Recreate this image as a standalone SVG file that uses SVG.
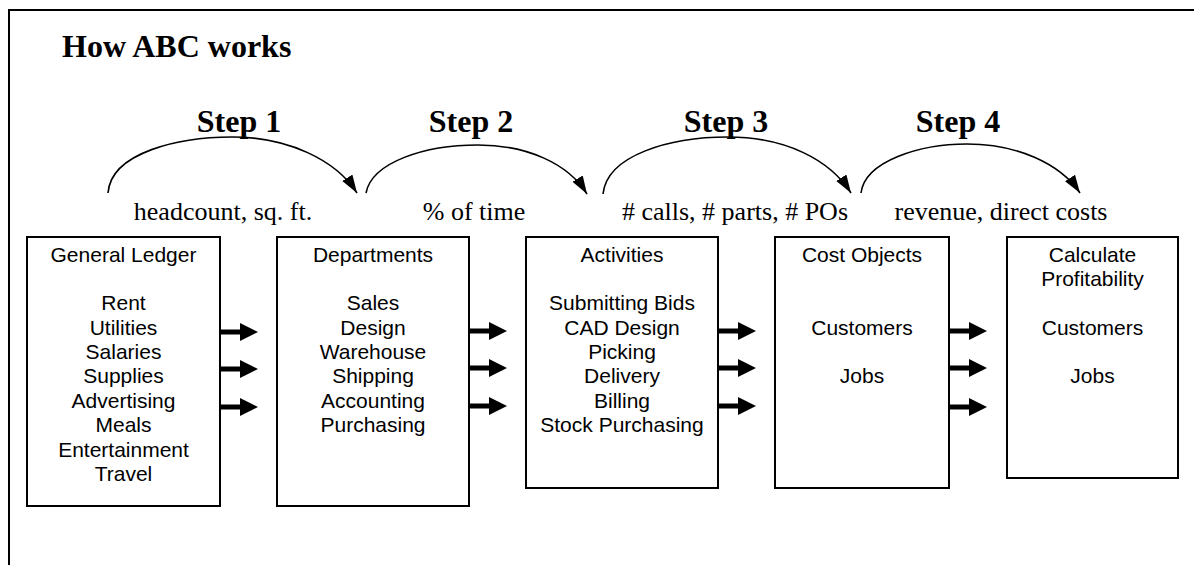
<svg xmlns="http://www.w3.org/2000/svg" width="1194" height="565" viewBox="0 0 1194 565">
<style>
.frame{fill:none;stroke:#000;stroke-width:2}
.box{fill:#fff;stroke:#000;stroke-width:2}
.title{font-family:"Liberation Serif","Times New Roman",serif;font-weight:bold;font-size:32px;fill:#000}
.step{font-family:"Liberation Serif","Times New Roman",serif;font-weight:bold;font-size:32px;fill:#000;text-anchor:middle}
.lbl{font-family:"Liberation Serif","Times New Roman",serif;font-size:26px;fill:#000;text-anchor:middle}
.bt{font-family:"Liberation Sans",Arial,sans-serif;font-size:21px;fill:#000;text-anchor:middle}
.arc{fill:none;stroke:#000;stroke-width:1.6;marker-end:url(#ah)}
.blk{fill:#000}
</style>
<defs>
<marker id="ah" markerUnits="userSpaceOnUse" markerWidth="20" markerHeight="20" viewBox="0 0 20 20" refX="18" refY="10" orient="auto">
<path d="M0,4 L18,10 L0,16 Z" fill="#000"/>
</marker>
<path id="ba" d="M0,-2.6 H20 V-9 L38,0 L20,9 V2.6 H0 Z"/>
</defs>
<path class="frame" d="M9,566 V10 H1196"/>
<text class="title" x="62" y="57">How ABC works</text>
<g id="steps">
<text class="step" x="239" y="132">Step 1</text>
<text class="step" x="471" y="132">Step 2</text>
<text class="step" x="726" y="132">Step 3</text>
<text class="step" x="958" y="132">Step 4</text>
<text class="lbl" x="223" y="220">headcount, sq. ft.</text>
<text class="lbl" x="474" y="220">% of time</text>
<text class="lbl" x="735" y="220"># calls, # parts, # POs</text>
<text class="lbl" x="1001" y="220">revenue, direct costs</text>
</g>
<g id="connectors">
<path class="arc" d="M108,193 C111,152 180,137 232,137 C288,137 336,160 357,193"/>
<path class="arc" d="M366,193 C372,162 425,145 478,145 C526,145 568,163 587,194"/>
<path class="arc" d="M603,194 C607,155 670,137 728,137 C786,137 830,160 851,193"/>
<path class="arc" d="M861,193 C865,161 920,144 967,144 C1016,144 1060,163 1080,193"/>
<use href="#ba" class="blk" x="220" y="332"/>
<use href="#ba" class="blk" x="220" y="369"/>
<use href="#ba" class="blk" x="220" y="407"/>
<use href="#ba" class="blk" x="469" y="331"/>
<use href="#ba" class="blk" x="469" y="368"/>
<use href="#ba" class="blk" x="469" y="406"/>
<use href="#ba" class="blk" x="718" y="331"/>
<use href="#ba" class="blk" x="718" y="368"/>
<use href="#ba" class="blk" x="718" y="406"/>
<use href="#ba" class="blk" x="949" y="331"/>
<use href="#ba" class="blk" x="949" y="368"/>
<use href="#ba" class="blk" x="949" y="407"/>
</g>
<g id="general-ledger">
<rect class="box" x="27" y="237" width="193" height="269"/>
<text class="bt" x="123.5" y="262">General Ledger</text>
<text class="bt" x="123.5" y="310">Rent</text>
<text class="bt" x="123.5" y="335">Utilities</text>
<text class="bt" x="123.5" y="359">Salaries</text>
<text class="bt" x="123.5" y="383">Supplies</text>
<text class="bt" x="123.5" y="408">Advertising</text>
<text class="bt" x="123.5" y="432">Meals</text>
<text class="bt" x="123.5" y="457">Entertainment</text>
<text class="bt" x="123.5" y="481">Travel</text>
</g>
<g id="departments">
<rect class="box" x="277" y="237" width="192" height="269"/>
<text class="bt" x="373" y="262">Departments</text>
<text class="bt" x="373" y="310">Sales</text>
<text class="bt" x="373" y="335">Design</text>
<text class="bt" x="373" y="359">Warehouse</text>
<text class="bt" x="373" y="383">Shipping</text>
<text class="bt" x="373" y="408">Accounting</text>
<text class="bt" x="373" y="432">Purchasing</text>
</g>
<g id="activities">
<rect class="box" x="526" y="237" width="192" height="251"/>
<text class="bt" x="622" y="262">Activities</text>
<text class="bt" x="622" y="310">Submitting Bids</text>
<text class="bt" x="622" y="335">CAD Design</text>
<text class="bt" x="622" y="359">Picking</text>
<text class="bt" x="622" y="383">Delivery</text>
<text class="bt" x="622" y="408">Billing</text>
<text class="bt" x="622" y="432">Stock Purchasing</text>
</g>
<g id="cost-objects">
<rect class="box" x="775" y="237" width="174" height="251"/>
<text class="bt" x="862" y="262">Cost Objects</text>
<text class="bt" x="862" y="335">Customers</text>
<text class="bt" x="862" y="383">Jobs</text>
</g>
<g id="calculate-profitability">
<rect class="box" x="1007" y="237" width="171" height="241"/>
<text class="bt" x="1092.5" y="262">Calculate</text>
<text class="bt" x="1092.5" y="286">Profitability</text>
<text class="bt" x="1092.5" y="335">Customers</text>
<text class="bt" x="1092.5" y="383">Jobs</text>
</g>
</svg>
